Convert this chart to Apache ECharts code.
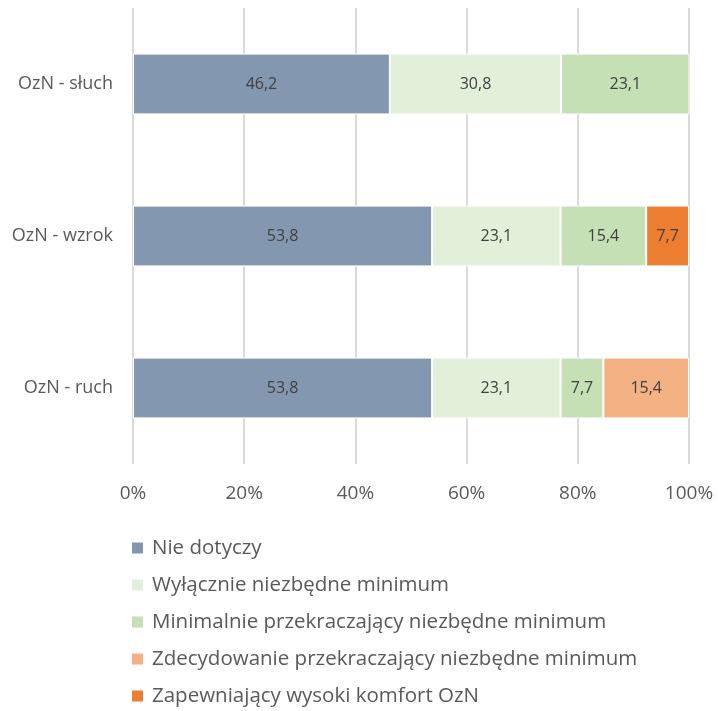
<!DOCTYPE html>
<html>
<head>
<meta charset="utf-8">
<script src="https://cdn.jsdelivr.net/npm/echarts@6/dist/echarts.min.js"></script>
<style>
  html, body { margin: 0; padding: 0; background: #fff; }
  #main { width: 718px; height: 711px; }
</style>
</head>
<body>
<div id="main"></div>
<script>
const dom = document.getElementById('main');

// bottom to top in echarts category order
const categories = ['OzN - ruch', 'OzN - wzrok', 'OzN - słuch'];
const seriesNames = [
  'Nie dotyczy',
  'Wyłącznie niezbędne minimum',
  'Minimalnie przekraczający niezbędne minimum',
  'Zdecydowanie przekraczający niezbędne minimum',
  'Zapewniający wysoki komfort OzN',
];
const nieDotyczy = [53.8, 53.8, 46.2];
const wylacznie = [23.1, 23.1, 30.8];
const minimalnie = [7.7, 15.4, 23.1];
const zdecydowanie = [15.4, 0, 0];
const zapewniajacy = [0, 7.7, 0];
const colors = ['#8497B0', '#E2F0D9', '#C5E0B4', '#F4B183', '#ED7D31'];
const xTicks = [0, 20, 40, 60, 80, 100];

const font = 'Open Sans';

function makeSeries(name, values, color) {
  return {
    name: name,
    type: 'bar',
    stack: 'total',
    barWidth: '40%',
    data: values.map((v) => (v === 0 ? null : v)),
    itemStyle: { color: color, borderColor: '#fff', borderWidth: 1 },
    label: {
      show: true,
      position: 'inside',
      color: '#404040',
      fontFamily: font,
      fontSize: 16,
      formatter: (p) => String(p.value).replace('.', ','),
    },
  };
}

function generateChart() {
  const myChart = echarts.init(dom);
  const allValues = [nieDotyczy, wylacznie, minimalnie, zdecydowanie, zapewniajacy];

  myChart.setOption({
    animation: false,
    grid: { left: 133, right: 29, top: 8, bottom: 247, containLabel: false },
    xAxis: {
      type: 'value',
      min: xTicks[0],
      max: xTicks[xTicks.length - 1],
      interval: 20,
      axisLine: { show: false },
      axisTick: { show: false },
      splitLine: { lineStyle: { color: '#D9D9D9', width: 2 } },
      axisLabel: {
        formatter: '{value}%',
        color: '#595959',
        fontFamily: font,
        fontSize: 19,
        margin: 20,
      },
    },
    yAxis: {
      type: 'category',
      data: categories,
      axisLine: { show: false },
      axisTick: { show: false },
      axisLabel: {
        color: '#595959',
        fontFamily: font,
        fontSize: 18,
        margin: 20,
      },
    },
    legend: {
      orient: 'vertical',
      left: 130,
      top: 536,
      height: 175,
      itemWidth: 13,
      itemHeight: 13,
      itemGap: 13,
      icon: 'rect',
      padding: 0,
      data: seriesNames,
      textStyle: {
        color: '#595959',
        fontFamily: font,
        fontSize: 20.5,
        lineHeight: 24,
        padding: [0, 0, 0, 3],
      },
    },
    series: seriesNames.map((n, i) => makeSeries(n, allValues[i], colors[i])),
  });
}

generateChart();
</script>
</body>
</html>
